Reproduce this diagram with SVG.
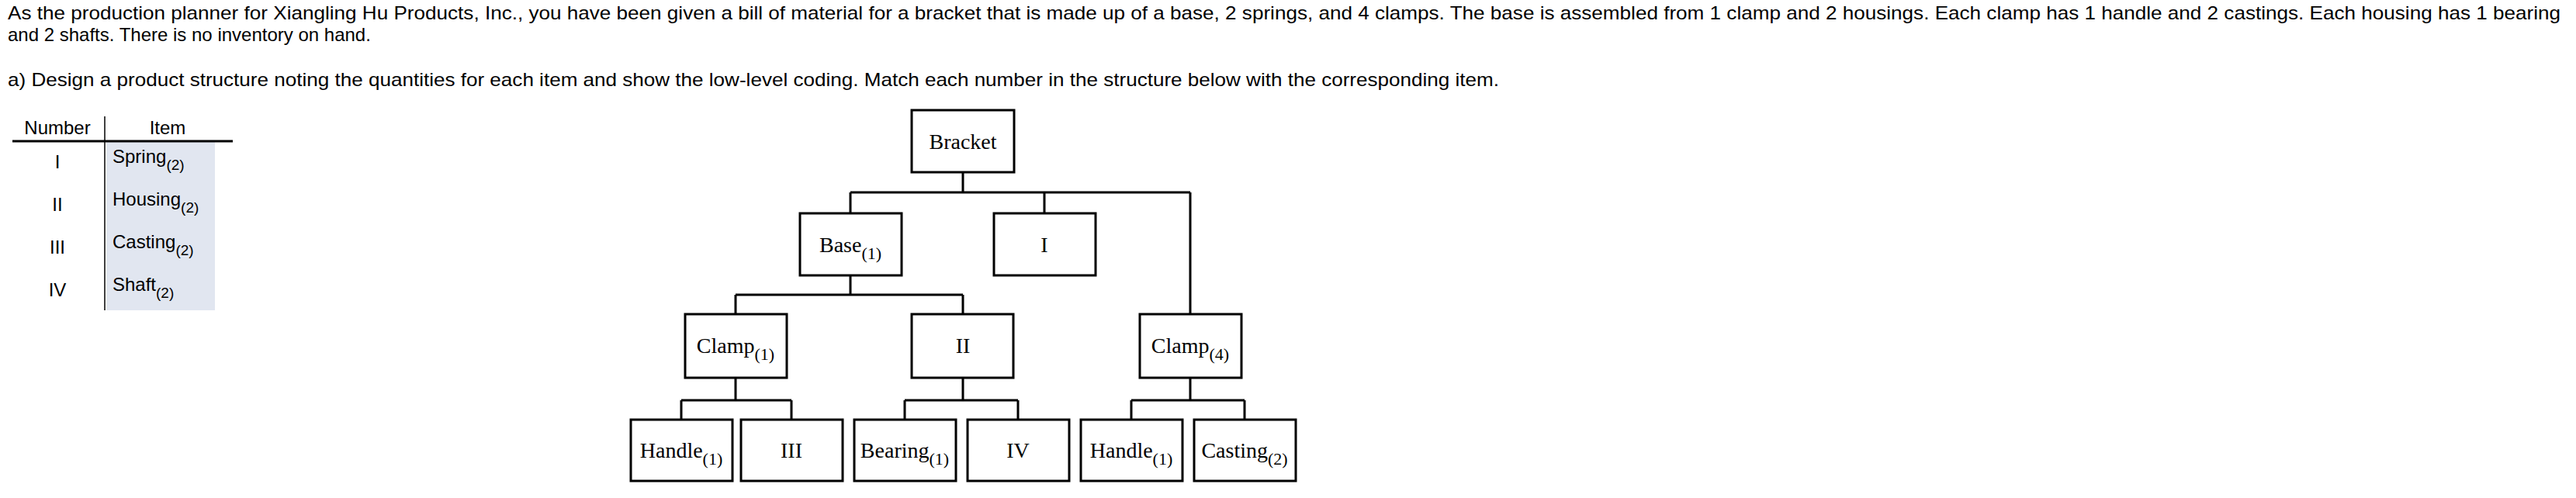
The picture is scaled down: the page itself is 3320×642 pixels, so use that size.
<svg xmlns="http://www.w3.org/2000/svg" width="3320" height="642" viewBox="0 0 3320 642">
<style>
.p{font-family:"Liberation Sans",Arial,sans-serif;font-size:24px;fill:#000}
.n{font-family:"Liberation Serif","Times New Roman",serif;font-size:28px;fill:#000;text-anchor:middle}
.s{font-size:22px}
.b{fill:#fff;stroke:#000;stroke-width:3}
.c{stroke:#000;stroke-width:3;fill:none}
</style>
<rect width="3320" height="642" fill="#fff"/>
<text class="p" x="10" y="25" textLength="3290" lengthAdjust="spacingAndGlyphs">As the production planner for Xiangling Hu Products, Inc., you have been given a bill of material for a bracket that is made up of a base, 2 springs, and 4 clamps. The base is assembled from 1 clamp and 2 housings. Each clamp has 1 handle and 2 castings. Each housing has 1 bearing</text>
<text class="p" x="10" y="53">and 2 shafts. There is no inventory on hand.</text>
<text class="p" x="10" y="111" textLength="1922" lengthAdjust="spacingAndGlyphs">a) Design a product structure noting the quantities for each item and show the low-level coding. Match each number in the structure below with the corresponding item.</text>
<g id="table">
<rect x="137" y="182" width="140" height="218" fill="#e1e6f0"/>
<line x1="16" y1="182" x2="300" y2="182" stroke="#000" stroke-width="3"/>
<line x1="135" y1="150" x2="135" y2="400" stroke="#000" stroke-width="1.5"/>
<text class="p" x="74" y="173" text-anchor="middle">Number</text>
<text class="p" x="216" y="173" text-anchor="middle">Item</text>
<text class="p" x="74" y="217" text-anchor="middle">I</text>
<text class="p" x="74" y="272" text-anchor="middle">II</text>
<text class="p" x="74" y="327" text-anchor="middle">III</text>
<text class="p" x="74" y="382" text-anchor="middle">IV</text>
<text class="p" x="145" y="210">Spring<tspan dy="9" font-size="19">(2)</tspan></text>
<text class="p" x="145" y="265">Housing<tspan dy="9" font-size="19">(2)</tspan></text>
<text class="p" x="145" y="320">Casting<tspan dy="9" font-size="19">(2)</tspan></text>
<text class="p" x="145" y="375">Shaft<tspan dy="9" font-size="19">(2)</tspan></text>
</g>
<g id="connectors">
<path class="c" d="M1241 222V248M1096 248H1534M1096 248V275M1346 248V275M1534 248V405"/>
<path class="c" d="M1096 355V380M948 380H1241M948 380V405M1241 380V405"/>
<path class="c" d="M948 487V516M878 516H1020M878 516V541M1020 516V541"/>
<path class="c" d="M1241 487V516M1166 516H1312M1166 516V541M1312 516V541"/>
<path class="c" d="M1534 487V516M1458 516H1604M1458 516V541M1604 516V541"/>
</g>
<g id="bracket"><rect class="b" x="1175" y="142" width="132" height="80"/><text class="n" x="1241" y="192">Bracket</text></g>
<g id="base"><rect class="b" x="1031" y="275" width="131" height="80"/><text class="n" x="1096" y="325">Base<tspan class="s" dy="9">(1)</tspan></text></g>
<g id="n-I"><rect class="b" x="1281" y="275" width="131" height="80"/><text class="n" x="1346" y="325">I</text></g>
<g id="clamp1"><rect class="b" x="883" y="405" width="131" height="82"/><text class="n" x="948" y="455">Clamp<tspan class="s" dy="9">(1)</tspan></text></g>
<g id="n-II"><rect class="b" x="1175" y="405" width="131" height="82"/><text class="n" x="1241" y="455">II</text></g>
<g id="clamp4"><rect class="b" x="1469" y="405" width="131" height="82"/><text class="n" x="1534" y="455">Clamp<tspan class="s" dy="9">(4)</tspan></text></g>
<g id="handle1"><rect class="b" x="813" y="541" width="131" height="79"/><text class="n" x="878" y="590">Handle<tspan class="s" dy="9">(1)</tspan></text></g>
<g id="n-III"><rect class="b" x="955" y="541" width="131" height="79"/><text class="n" x="1020" y="590">III</text></g>
<g id="bearing"><rect class="b" x="1101" y="541" width="131" height="79"/><text class="n" x="1166" y="590">Bearing<tspan class="s" dy="9">(1)</tspan></text></g>
<g id="n-IV"><rect class="b" x="1247" y="541" width="131" height="79"/><text class="n" x="1312" y="590">IV</text></g>
<g id="handle2"><rect class="b" x="1393" y="541" width="131" height="79"/><text class="n" x="1458" y="590">Handle<tspan class="s" dy="9">(1)</tspan></text></g>
<g id="casting"><rect class="b" x="1539" y="541" width="131" height="79"/><text class="n" x="1604" y="590">Casting<tspan class="s" dy="9">(2)</tspan></text></g>
</svg>
